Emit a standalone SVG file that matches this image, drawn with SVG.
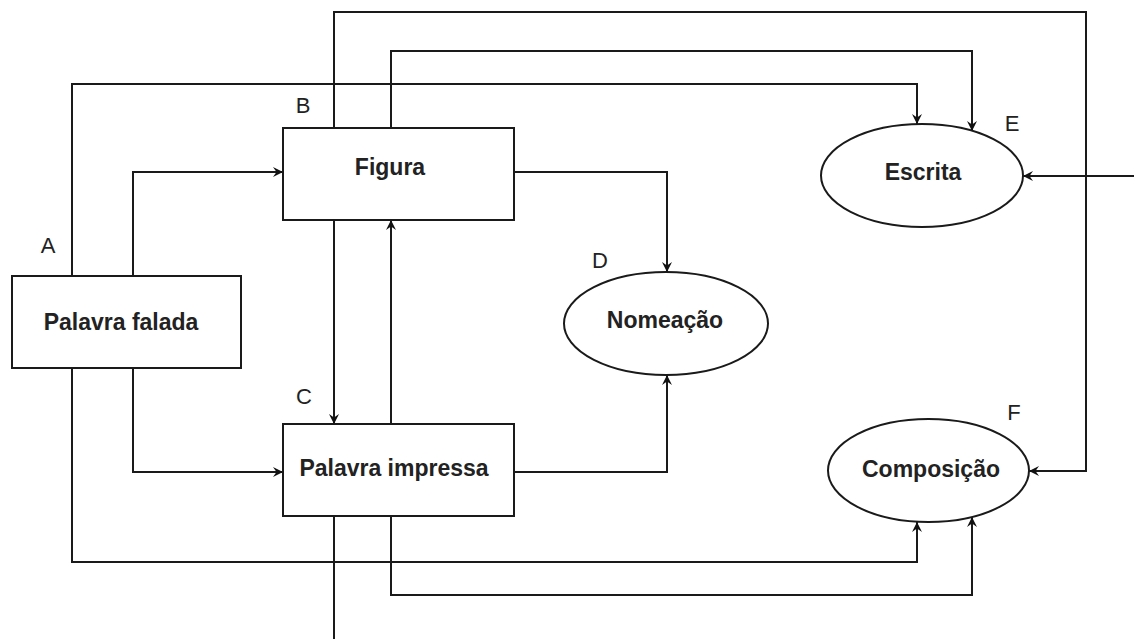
<svg xmlns="http://www.w3.org/2000/svg" width="1134" height="639" viewBox="0 0 1134 639">
<defs>
<style>
.box{fill:#fff;stroke:#1a1a1a;stroke-width:2}
.t{font-family:"Liberation Sans",Arial,sans-serif;font-weight:bold;font-size:23px;fill:#222;text-anchor:middle}
.lbl{font-family:"Liberation Sans",Arial,sans-serif;font-size:22px;fill:#222;text-anchor:middle}
.c{fill:none;stroke:#1a1a1a;stroke-width:2;marker-end:url(#ah)}
.n{fill:none;stroke:#1a1a1a;stroke-width:2}
</style>
<marker id="ah" markerUnits="userSpaceOnUse" markerWidth="14" markerHeight="14" viewBox="-1 -7 14 14" refX="10" refY="0" orient="auto">
<path d="M0,-5 L10,0 L0,5 L3.5,0 z" fill="#111"/>
</marker>
</defs>
<rect width="1134" height="639" fill="#fff"/>
<g id="connectors">
<path class="c" d="M133,276 V172 H283"/>
<path class="c" d="M133,368 V472 H283"/>
<path class="c" d="M72,276 V84 H917 V124"/>
<path class="c" d="M72,368 V562 H917 V522"/>
<path class="c" d="M334,220 V424"/>
<path class="c" d="M391,424 V220"/>
<path class="c" d="M514,172 H667 V272"/>
<path class="c" d="M514,472 H667 V375"/>
<path class="c" d="M391,128 V51 H972 V131"/>
<path class="c" d="M391,516 V595 H972 V517"/>
<path class="c" d="M334,128 V12 H1086 V471 H1029"/>
<path class="n" d="M334,516 V639"/>
<path class="c" d="M1134,176 H1023"/>
</g>
<g id="A">
<rect class="box" x="12" y="276" width="229" height="92"/>
<text class="t" x="121" y="330">Palavra falada</text>
<text class="lbl" x="48" y="253">A</text>
</g>
<g id="B">
<rect class="box" x="283" y="128" width="231" height="92"/>
<text class="t" x="390" y="175">Figura</text>
<text class="lbl" x="303" y="113">B</text>
</g>
<g id="C">
<rect class="box" x="283" y="424" width="231" height="92"/>
<text class="t" x="394" y="476">Palavra impressa</text>
<text class="lbl" x="304" y="404">C</text>
</g>
<g id="D">
<ellipse class="box" cx="666" cy="323.5" rx="102" ry="51.5"/>
<text class="t" x="665" y="328">Nomeação</text>
<text class="lbl" x="600" y="268">D</text>
</g>
<g id="E">
<ellipse class="box" cx="922" cy="175.5" rx="101" ry="51.5"/>
<text class="t" x="923" y="180">Escrita</text>
<text class="lbl" x="1012" y="131">E</text>
</g>
<g id="F">
<ellipse class="box" cx="928.5" cy="470.5" rx="100.5" ry="51.5"/>
<text class="t" x="931" y="477">Composição</text>
<text class="lbl" x="1014" y="420">F</text>
</g>
</svg>
